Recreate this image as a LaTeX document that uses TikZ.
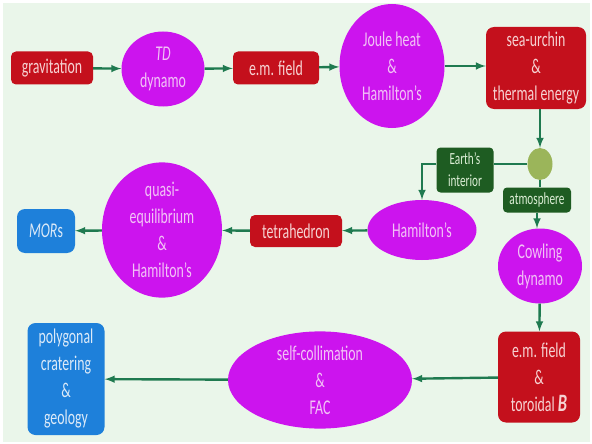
\documentclass[tikz,border=0pt]{standalone}
\usepackage{fontspec}
\setmainfont{Carlito}[FakeStretch=0.66]
\usetikzlibrary{arrows}
\usetikzlibrary{shapes.geometric}
\usetikzlibrary{positioning}
\definecolor{MintBack}{HTML}{EAF6EA}
\definecolor{DeepRed}{HTML}{C4101C}
\definecolor{PaleRed}{HTML}{F6D2D2}
\definecolor{BrightViolet}{HTML}{CC14EE}
\definecolor{PaleViolet}{HTML}{F2C2F6}
\definecolor{ForestGreen}{HTML}{1E5C22}
\definecolor{PaleGreen}{HTML}{DCEED6}
\definecolor{OliveGreen}{HTML}{9BB55A}
\definecolor{SkyBlue}{HTML}{1E80DA}
\definecolor{PaleBlue}{HTML}{DCEAF8}
\definecolor{ArrowGreen}{HTML}{1F7A50}
\tikzset{
  every node/.style={font=\fontsize{21}{27}\selectfont, align=center, inner sep=0pt},
  redbox/.style={rectangle, rounded corners=5pt, fill=DeepRed, text=PaleRed},
  bluebox/.style={rectangle, rounded corners=8pt, fill=SkyBlue, text=PaleBlue},
  greenbox/.style={rectangle, rounded corners=4pt, fill=ForestGreen, text=PaleGreen,
    font=\fontsize{17}{22}\selectfont},
  blob/.style={ellipse, fill=BrightViolet, text=PaleViolet},
  link/.style={ArrowGreen, line width=2.4pt},
  flow/.style={link, -latex}
}

\begin{document}
\begin{tikzpicture}[x=1pt, y=-1pt]
  \useasboundingbox (0,0) rectangle (592,444);
  \fill[white] (0,0) rectangle (592,444);
  \fill[MintBack] (3,3) rectangle (590,442);

  % top row
  \node[redbox, minimum width=82pt, minimum height=33pt] (Grav) at (52,68) {gravitation};
  \node[blob, minimum width=83pt, minimum height=75pt] (TDdyn) at (163,69) {\textit{TD}\\dynamo};
  \node[redbox, minimum width=86pt, minimum height=33pt] (EMfield) at (276,68) {e.m. field};
  \node[blob, minimum width=105pt, minimum height=124pt] (Joule) at (392,66) {Joule heat\\\&\\Hamilton’s};
  \node[redbox, rounded corners=8pt, minimum width=100pt, minimum height=82pt] (Urchin) at (536,68) {sea-urchin\\\&\\thermal energy};

  % branching
  \node[ellipse, fill=OliveGreen, minimum width=25pt, minimum height=32pt] (Split) at (540,164) {};
  \node[greenbox, minimum width=57pt, minimum height=45pt] (Interior) at (465,170) {Earth’s\\interior};
  \node[greenbox, minimum width=68pt, minimum height=25pt] (Atmos) at (537,200) {atmosphere};

  % middle row
  \node[blob, minimum width=109pt, minimum height=60pt] (Hamil) at (422,230) {Hamilton’s};
  \node[redbox, minimum width=92pt, minimum height=32pt] (Tetra) at (296,231) {tetrahedron};
  \node[blob, minimum width=120pt, minimum height=120pt] (Quasi) at (162,230) {quasi-\\equilibrium\\\&\\Hamilton’s};
  \node[bluebox, minimum width=58pt, minimum height=44pt] (MORs) at (46,231) {\textit{MOR}s};
  \node[blob, minimum width=84pt, minimum height=75pt] (Cowling) at (540,266) {Cowling\\dynamo};

  % bottom row
  \node[redbox, rounded corners=8pt, minimum width=82pt, minimum height=91pt] (Toroid) at (539,377) {e.m. field\\\&\\toroidal \textbf{\textit{\fontsize{25}{27}\selectfont B}}};
  \node[blob, minimum width=184pt, minimum height=85pt] (Collim) at (320,380) {self-collimation\\\&\\FAC};
  \node[bluebox, minimum width=77pt, minimum height=112pt] (Crater) at (66,379) {polygonal\\cratering\\\&\\geology};

  \draw[flow] (Grav) -- (TDdyn);
  \draw[flow] (TDdyn) -- (EMfield);
  \draw[flow] (EMfield) -- (Joule);
  \draw[flow] (Joule) -- (Urchin.west |- Joule);
  \draw[flow] (Urchin.south -| Split) -- (Split.north);
  \draw[link] (Split.west) -- (Split.west -| Interior.east);
  \draw[flow] (Split.west -| Interior.west) -| (Hamil.north);
  \draw[link] (Split.south) -- (Atmos.north -| Split);
  \draw[flow] (Atmos.south) -- (Cowling.north -| Atmos);
  \draw[flow] (Hamil) -- (Tetra);
  \draw[flow] (Tetra) -- (Quasi);
  \draw[flow] (Quasi) -- (MORs);
  \draw[flow] (Cowling) -- (Toroid);
  \draw[flow] (Toroid) -- (Collim);
  \draw[flow] (Collim) -- (Crater);
\end{tikzpicture}
\end{document}
